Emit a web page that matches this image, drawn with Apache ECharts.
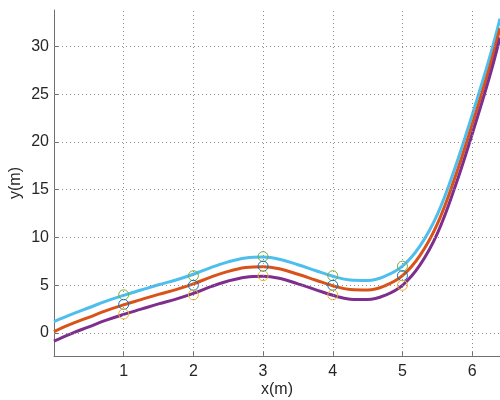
<!DOCTYPE html>
<html>
<head>
<meta charset="utf-8">
<style>
  html, body { margin: 0; padding: 0; background: #fff; }
  #chart { width: 500px; height: 400px; }
</style>
<script src="https://cdn.jsdelivr.net/npm/echarts@6/dist/echarts.min.js"></script>
</head>
<body>
<div id="chart"></div>
<script>
// curve sample positions (x in m)
const xs = [0, 0.25, 0.5, 0.75, 1, 1.25, 1.5, 1.75, 2, 2.25, 2.5, 2.75, 3, 3.25, 3.5, 3.75, 4, 4.25, 4.5, 4.75, 5, 5.25, 5.5, 5.75, 6, 6.25, 6.4];
const cyanY = [1.2, 1.95, 2.65, 3.35, 3.95, 4.5, 5.05, 5.55, 6.15, 6.85, 7.45, 7.85, 7.95, 7.7, 7.15, 6.55, 5.95, 5.55, 5.5, 5.95, 7.0, 9.1, 12.4, 17.2, 22.8, 28.8, 32.9];
const orangeY = [0.15, 0.95, 1.65, 2.35, 2.95, 3.5, 4.05, 4.55, 5.15, 5.85, 6.45, 6.85, 6.95, 6.7, 6.15, 5.55, 4.95, 4.55, 4.5, 4.95, 6.0, 8.1, 11.4, 16.2, 21.8, 27.8, 31.9];
const purpleY = [-0.85, -0.05, 0.65, 1.35, 1.95, 2.5, 3.05, 3.55, 4.15, 4.85, 5.45, 5.85, 5.95, 5.7, 5.15, 4.55, 3.95, 3.55, 3.5, 3.95, 5.0, 7.1, 10.4, 15.2, 20.8, 26.8, 30.9];

// measured points
const ptX = [1, 2, 3, 4, 5];
const greenPts = [4, 6, 8, 6, 7];
const bluePts = [3, 5, 7, 5, 6];
const yellowPts = [2, 4, 6, 4, 5];

// tick labels
const xTicks = [1, 2, 3, 4, 5, 6];
const yTicks = [0, 5, 10, 15, 20, 25, 30];

const pairs = (a, b) => a.map((v, i) => [v, b[i]]);

const font = { fontFamily: 'Liberation Sans, Arial, sans-serif', fontSize: 16, color: '#262626' };
const axisLine = { show: true, onZero: false, lineStyle: { color: '#6e6e6e', width: 1 } };
const gridStyle = { color: '#8c8c8c', width: 1, type: [1, 3] };

const chart = echarts.init(document.getElementById('chart'));

const lineSeries = (data, color) => ({
  type: 'line',
  data: pairs(xs, data),
  smooth: 0.4,
  showSymbol: false,
  z: 3,
  lineStyle: { color: color, width: 3 },
  itemStyle: { color: color }
});

const ringSeries = (data, color) => ({
  type: 'scatter',
  data: pairs(ptX, data),
  symbol: 'circle',
  symbolSize: 10,
  z: 4,
  itemStyle: { color: 'rgba(0,0,0,0)', borderColor: color, borderWidth: 1, opacity: 1 }
});

chart.setOption({
  animation: false,
  grid: { left: 54, right: 0, top: 10, bottom: 44, containLabel: false, outerBoundsMode: 'none' },
  xAxis: {
    type: 'value',
    min: 0,
    max: 6.4,
    name: 'x(m)',
    nameLocation: 'middle',
    nameGap: 26,
    nameMoveOverlap: false,
    nameTextStyle: font,
    axisLine: axisLine,
    axisTick: { show: true, inside: true, length: 4, customValues: xTicks, lineStyle: { color: '#6e6e6e' } },
    axisLabel: Object.assign({ margin: 8, customValues: xTicks }, font),
    splitLine: { show: false }
  },
  yAxis: {
    type: 'value',
    min: -2.4,
    max: 33.8,
    name: 'y(m)',
    nameLocation: 'middle',
    nameGap: 30,
    nameMoveOverlap: false,
    nameTextStyle: font,
    axisLine: axisLine,
    axisTick: { show: true, inside: true, length: 4, customValues: yTicks, lineStyle: { color: '#6e6e6e' } },
    axisLabel: Object.assign({ margin: 5, customValues: yTicks }, font),
    splitLine: { show: false }
  },
  series: [
    {
      type: 'line',
      data: [],
      z: 1,
      markLine: {
        silent: true,
        symbol: 'none',
        label: { show: false },
        lineStyle: gridStyle,
        data: xTicks.map(v => ({ xAxis: v })).concat(yTicks.map(v => ({ yAxis: v })))
      }
    },
    lineSeries(cyanY, '#4DBEEE'),
    lineSeries(orangeY, '#D95319'),
    lineSeries(purpleY, '#7E2F8E'),
    ringSeries(greenPts, '#77AC30'),
    ringSeries(bluePts, '#0072BD'),
    ringSeries(yellowPts, '#EDB120')
  ]
});
</script>
</body>
</html>
